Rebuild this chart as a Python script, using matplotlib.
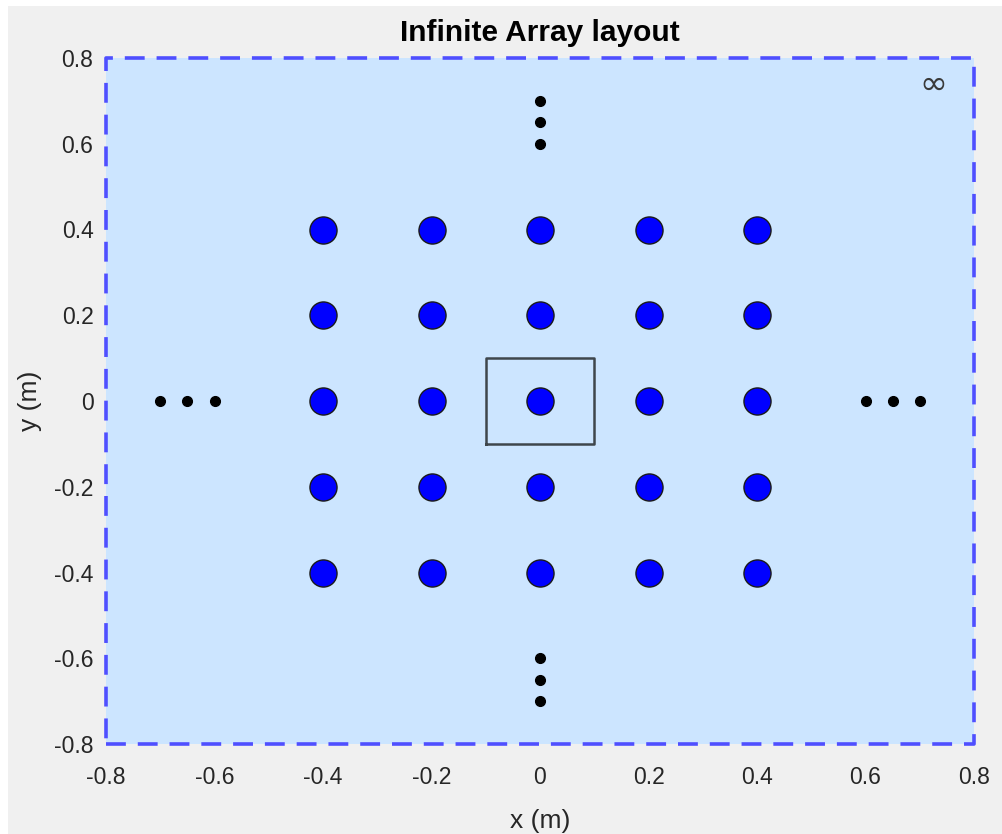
import numpy as np
import matplotlib.pyplot as plt
from matplotlib.patches import Rectangle

plt.rcParams['font.family'] = ['Liberation Sans', 'DejaVu Sans']

# element grid positions (m)
elem_x = [-0.4, -0.2, 0.0, 0.2, 0.4]
elem_y = [-0.4, -0.2, 0.0, 0.2, 0.4]

# unit cell around the centre element
cell_x = [-0.1, 0.1, 0.1, -0.1, -0.1]
cell_y = [-0.1, -0.1, 0.1, 0.1, -0.1]

# ellipsis dots showing the array continues
dots_left_x = [-0.7, -0.65, -0.6]
dots_right_x = [0.6, 0.65, 0.7]
dots_top_y = [0.6, 0.65, 0.7]
dots_bottom_y = [-0.6, -0.65, -0.7]

# layout bounds
bound_x = [-0.8, 0.8, 0.8, -0.8, -0.8]
bound_y = [-0.8, -0.8, 0.8, 0.8, -0.8]

xticks = [-0.8, -0.6, -0.4, -0.2, 0, 0.2, 0.4, 0.6, 0.8]
yticks = [-0.8, -0.6, -0.4, -0.2, 0, 0.2, 0.4, 0.6, 0.8]
xtick_labels = ['-0.8', '-0.6', '-0.4', '-0.2', '0', '0.2', '0.4', '0.6', '0.8']
ytick_labels = ['-0.8', '-0.6', '-0.4', '-0.2', '0', '0.2', '0.4', '0.6', '0.8']

fig = plt.figure(figsize=(10.02, 8.34), dpi=100, facecolor='white')
fig.patches.append(Rectangle((8 / 1002, 0), 1, 1 - 6 / 834, transform=fig.transFigure,
                             facecolor='#f0f0f0', edgecolor='none', zorder=-10))
ax = fig.add_axes([106 / 1002, 1 - 744 / 834, 868 / 1002, 686 / 834])
ax.set_facecolor('none')

ax.fill(bound_x, bound_y, color='#cce5ff', zorder=0)
ax.plot(bound_x, bound_y, color='#4f4fff', lw=2.6, ls=(0, (5.5, 3.3)), zorder=1, clip_on=False)

gx, gy = np.meshgrid(elem_x, elem_y)
ax.plot(gx.ravel(), gy.ravel(), 'o', ms=19.5, mfc='#0000ff', mec='#1a1a1a', mew=1.0,
        ls='none', zorder=3)

ax.plot(cell_x, cell_y, color='#3e464c', lw=1.8, zorder=2)

ax.plot(dots_left_x, [0] * 3, 'o', color='black', ms=7, ls='none', zorder=3)
ax.plot(dots_right_x, [0] * 3, 'o', color='black', ms=7, ls='none', zorder=3)
ax.plot([0] * 3, dots_top_y, 'o', color='black', ms=7, ls='none', zorder=3)
ax.plot([0] * 3, dots_bottom_y, 'o', color='black', ms=7, ls='none', zorder=3)

ax.text(0.725, 0.738, '\u221e', fontsize=24, color='#3a3a3a', ha='center', va='center',
        family=['DejaVu Sans'])

ax.set_xlim(-0.8, 0.8)
ax.set_ylim(-0.8, 0.8)
ax.set_xticks(xticks)
ax.set_xticklabels(xtick_labels)
ax.set_yticks(yticks)
ax.set_yticklabels(ytick_labels)
ax.tick_params(length=0, labelsize=16.5, colors='#262626')
ax.tick_params(axis='x', pad=16)
ax.tick_params(axis='y', pad=9)
for s in ax.spines.values():
    s.set_visible(False)

ax.set_xlabel('x (m)', fontsize=19, color='#262626', labelpad=14)
ax.set_ylabel('y (m)', fontsize=19, color='#262626', labelpad=9)
ax.set_title('Infinite Array layout', fontsize=21.5, fontweight='bold', color='black', pad=12)

fig.savefig('out.png', dpi=100, facecolor=fig.get_facecolor())
